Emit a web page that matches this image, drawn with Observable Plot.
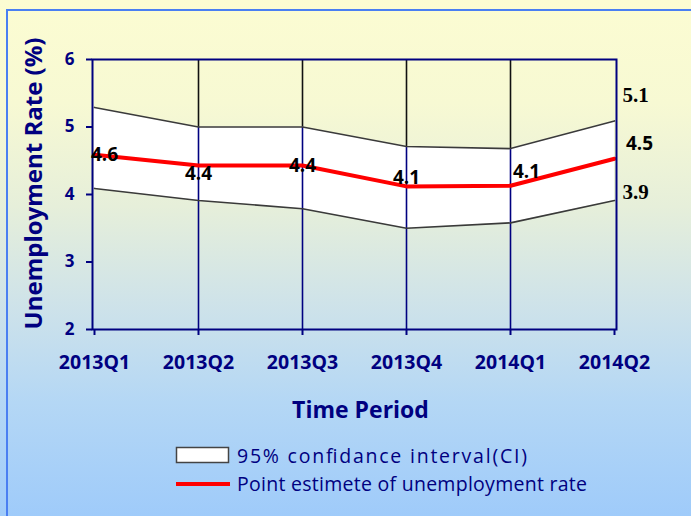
<!DOCTYPE html>
<html>
<head>
<meta charset="utf-8">
<script src="https://cdn.jsdelivr.net/npm/d3@7"></script>
<script src="https://cdn.jsdelivr.net/npm/@observablehq/plot@0.6"></script>
<style>
  html, body { margin: 0; padding: 0; }
  #wrap {
    position: relative; width: 691px; height: 516px; overflow: hidden;
    background: linear-gradient(to bottom, #fcfcd2 0%, #f7f9d3 20%, #e6efda 40%, #cde2ea 60%, #b4d7f5 78%, #9fcbfa 100%);
    font-family: "Open Sans", sans-serif;
  }
  #border {
    position: absolute; left: 6px; top: 9px; width: 700px; height: 520px;
    border: 2px solid #4a7ff2; box-sizing: border-box;
  }
  #chart { position: absolute; left: 0; top: 0; }
  #legend { position: absolute; left: 0; top: 432px; }
</style>
</head>
<body>
<div id="wrap">
  <div id="border"></div>
  <div id="chart"></div>
  <div id="legend"></div>
</div>
<script>
const categories = ["2013Q1", "2013Q2", "2013Q3", "2013Q4", "2014Q1", "2014Q2"];
const upper = [5.29, 5.0, 5.0, 4.71, 4.68, 5.09];
const lower = [4.09, 3.91, 3.79, 3.50, 3.58, 3.91];
const estimate = [4.59, 4.43, 4.43, 4.12, 4.13, 4.53];
const pointLabels = ["4.6", "4.4", "4.4", "4.1", "4.1"];
const endLabels = ["5.1", "4.5", "3.9"];
const yTicks = [2, 3, 4, 5, 6];
const legendLabels = ["95% confidance interval(CI)", "Point estimete of unemployment rate"];

const navy = "#000080";
const rows = categories.map((c, i) => ({cat: c, upper: upper[i], lower: lower[i], est: estimate[i]}));
const inner = rows.slice(1, -1);
const last = rows[rows.length - 1];

const labelOffsets = [[10, 0], [0, 8], [0, 0], [0, -8], [16, -14]];

const H = 432;
const plot = Plot.plot({
  width: 691,
  height: H,
  marginLeft: 92,
  marginRight: 75,
  marginTop: 59,
  marginBottom: H - 329,
  style: {background: "transparent", fontFamily: "Open Sans, sans-serif", overflow: "visible"},
  x: {type: "point", domain: categories, padding: 0},
  y: {domain: [2, 6]},
  marks: [
    Plot.areaY(rows, {x: "cat", y1: "lower", y2: "upper", fill: "white", curve: "linear"}),
    Plot.ruleX(inner, {x: "cat", y1: 2, y2: "upper", stroke: navy, strokeWidth: 1.6}),
    Plot.ruleX(inner, {x: "cat", y1: "upper", y2: 6, stroke: "#111", strokeWidth: 1.6}),
    Plot.lineY(rows, {x: "cat", y: "upper", stroke: "#3a3a3a", strokeWidth: 1.6}),
    Plot.lineY(rows, {x: "cat", y: "lower", stroke: "#3a3a3a", strokeWidth: 1.6}),
    Plot.lineY(rows, {x: "cat", y: "est", stroke: "#ff0000", strokeWidth: 4}),
    Plot.frame({stroke: navy, strokeWidth: 2}),
    Plot.axisY({ticks: yTicks, tickSize: 6, tickPadding: 12, stroke: navy, strokeWidth: 2, fill: navy,
      fontSize: 17, fontWeight: "bold", label: null, tickFormat: d => String(d)}),
    Plot.axisX({tickSize: 6, tickPadding: 20, stroke: navy, strokeWidth: 2, fill: navy,
      fontSize: 19.5, fontWeight: "bold", label: null}),
    ...pointLabels.map((t, i) => Plot.text([rows[i]], {x: "cat", y: "est", text: () => t,
      dx: labelOffsets[i][0], dy: labelOffsets[i][1], fill: "black", fontSize: 19, fontWeight: "bold"})),
    Plot.text([last], {x: "cat", y: "upper", text: () => endLabels[0], dx: 21, dy: -26,
      fill: "black", fontSize: 21, fontWeight: "bold", fontFamily: "Liberation Serif, serif"}),
    Plot.text([last], {x: "cat", y: "est", text: () => endLabels[1], dx: 25, dy: -15,
      fill: "black", fontSize: 19, fontWeight: "bold"}),
    Plot.text([last], {x: "cat", y: "lower", text: () => endLabels[2], dx: 21, dy: -8,
      fill: "black", fontSize: 21, fontWeight: "bold", fontFamily: "Liberation Serif, serif"}),
    Plot.text(["Time Period"], {frameAnchor: "bottom", dx: 6, dy: 88, fill: navy, fontSize: 23, fontWeight: "bold"}),
    Plot.text(["Unemployment Rate (%)"], {frameAnchor: "left", textAnchor: "middle", dx: -58, dy: -11, rotate: -90,
      fill: navy, fontSize: 24, fontWeight: "bold"})
  ]
});
document.getElementById("chart").appendChild(plot);

// Legend
const lg = d3.select("#legend").append("svg").attr("width", 691).attr("height", 84)
  .style("font-family", "Open Sans, sans-serif");
lg.append("rect").attr("x", 176.5).attr("y", 15.5).attr("width", 52).attr("height", 15)
  .attr("fill", "white").attr("stroke", "#444").attr("stroke-width", 1.5);
lg.append("line").attr("x1", 176).attr("x2", 230).attr("y1", 52).attr("y2", 52)
  .attr("stroke", "#ff0000").attr("stroke-width", 4);
lg.append("text").attr("x", 237).attr("y", 31).attr("fill", navy).attr("font-size", 19.5)
  .attr("textLength", 290).attr("lengthAdjust", "spacing").text(legendLabels[0]);
lg.append("text").attr("x", 237).attr("y", 59).attr("fill", navy).attr("font-size", 19.5)
  .attr("textLength", 350).attr("lengthAdjust", "spacing").text(legendLabels[1]);
</script>
</body>
</html>
